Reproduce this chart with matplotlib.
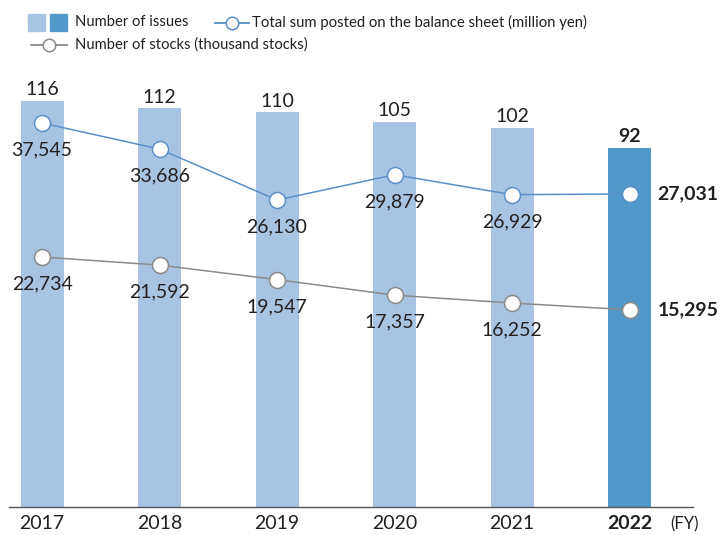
import matplotlib
matplotlib.use("Agg")
import matplotlib.pyplot as plt
from matplotlib.lines import Line2D
from matplotlib.patches import Rectangle

plt.rcParams['font.family'] = ['Lato', 'DejaVu Sans']

years = ["2017", "2018", "2019", "2020", "2021", "2022"]
issues = [116, 112, 110, 105, 102, 92]
total_sum = [37545, 33686, 26130, 29879, 26929, 27031]
stocks = [22734, 21592, 19547, 17357, 16252, 15295]

LIGHT = "#a7c5e3"
DARK = "#5299cb"
BLUE_LINE = "#5b8fc7"
GRAY_LINE = "#8a8a8a"
TXT = "#231f20"

W, H = 721, 535
fig = plt.figure(figsize=(W / 100, H / 100), dpi=100)

left_px, right_px, top_px, bot_px = 9, 693, 60, 507
ax = fig.add_axes([left_px / W, 1 - bot_px / H, (right_px - left_px) / W, (bot_px - top_px) / H])
x = list(range(len(years)))
colors = [LIGHT] * (len(years) - 1) + [DARK]
bw = 43 / 117.5
YB = -91.5
ax.bar(x, issues, width=bw, color=colors, zorder=1)
ax.set_xlim(-0.281, 5.54)
ax.set_ylim(YB, 136.7)
# bars start from axis bottom: extend them downward
for rect in ax.patches:
    rect.set_y(YB)
    rect.set_height(rect.get_height() - YB)

for i, v in enumerate(issues):
    ax.annotate(str(v), (i, v), xytext=(0, 2), textcoords="offset points",
                ha="center", va="bottom", fontsize=14, color=TXT,
                fontweight="bold" if i == len(years) - 1 else "normal")

for s in ["top", "left", "right"]:
    ax.spines[s].set_visible(False)
ax.spines["bottom"].set_color("#555555")
ax.spines["bottom"].set_linewidth(1.0)
ax.set_yticks([])
ax.set_xticks(x)
ax.set_xticklabels(years, fontsize=14, color=TXT)
ax.get_xticklabels()[-1].set_fontweight("bold")
ax.tick_params(axis="x", length=0, pad=5.5)

ax2 = ax.twinx()
ax2.set_ylim(-19344, 46878)
ax2.plot(x, total_sum, color=BLUE_LINE, lw=1.1, marker="o", markersize=11.5,
         markerfacecolor="white", markeredgecolor=BLUE_LINE, markeredgewidth=1.1, zorder=3)
ax3 = ax.twinx()
ax3.set_ylim(-12477, 50480)
ax3.plot(x, stocks, color=GRAY_LINE, lw=1.1, marker="o", markersize=11.5,
         markerfacecolor="white", markeredgecolor=GRAY_LINE, markeredgewidth=1.1, zorder=3)
for a in (ax2, ax3):
    a.set_axis_off()
    a.set_xlim(ax.get_xlim())

n = len(years)
for a, series in ((ax2, total_sum), (ax3, stocks)):
    for i, v in enumerate(series):
        if i < n - 1:
            a.annotate(f"{v:,}", (i, v), xytext=(0, -19.5), textcoords="offset points",
                       ha="center", va="center", fontsize=14, color=TXT)
        else:
            a.annotate(f"{v:,}", (i, v), xytext=(20, 0), textcoords="offset points",
                       ha="left", va="center", fontsize=14, color=TXT, fontweight="bold")

# overlay axes for legend and FY label, in pixel coordinates
ov = fig.add_axes([0, 0, 1, 1], zorder=10)
ov.set_xlim(0, W)
ov.set_ylim(H, 0)
ov.set_axis_off()
ov.patch.set_alpha(0)
ov.add_patch(Rectangle((28, 14), 17, 17, color=LIGHT))
ov.add_patch(Rectangle((50, 14), 17, 17, color=DARK))
ov.text(75, 22.5, "Number of issues", fontsize=10.6, va="center", ha="left", color=TXT)
ov.add_line(Line2D([215, 249], [22.5, 22.5], color=BLUE_LINE, lw=1.3))
ov.plot([232], [22.5], marker="o", markersize=9, markerfacecolor="white",
        markeredgecolor=BLUE_LINE, markeredgewidth=1.1)
ov.text(252, 22.5, "Total sum posted on the balance sheet (million yen)", fontsize=10.7,
        va="center", ha="left", color=TXT)
ov.add_line(Line2D([31, 67], [44.5, 44.5], color=GRAY_LINE, lw=1.3))
ov.plot([49], [44.5], marker="o", markersize=9, markerfacecolor="white",
        markeredgecolor=GRAY_LINE, markeredgewidth=1.1)
ov.text(75, 44.5, "Number of stocks (thousand stocks)", fontsize=10.6, va="center",
        ha="left", color=TXT)
ov.text(670, 524, "(FY)", fontsize=12, va="center", ha="left", color=TXT)

fig.savefig("out.png", dpi=100)
